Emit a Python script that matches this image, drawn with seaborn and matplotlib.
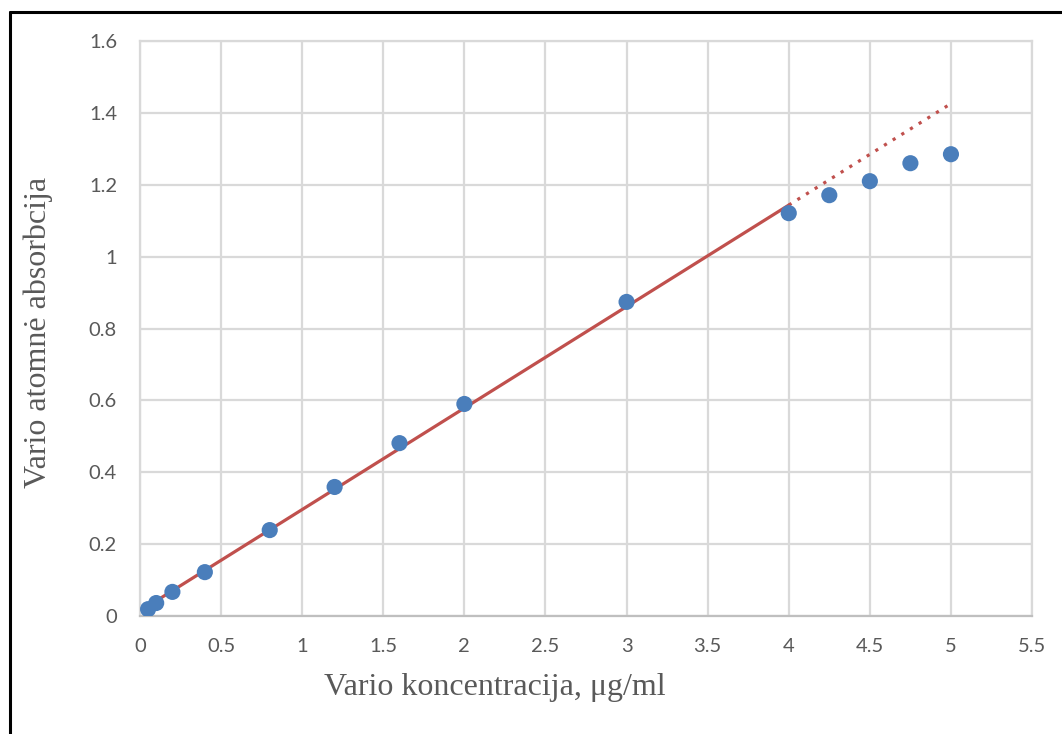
import numpy as np
import pandas as pd
import matplotlib
matplotlib.use("Agg")
import matplotlib.pyplot as plt
from matplotlib.lines import Line2D
import seaborn as sns

# Calibration measurements
concentration = [0.05, 0.1, 0.2, 0.4, 0.8, 1.2, 1.6, 2.0, 3.0, 4.0, 4.25, 4.5, 4.75, 5.0]
absorbance = [0.019, 0.036, 0.067, 0.122, 0.239, 0.359, 0.481, 0.590, 0.874, 1.121,
              1.171, 1.210, 1.260, 1.285]

x_ticks = [0, 0.5, 1, 1.5, 2, 2.5, 3, 3.5, 4, 4.5, 5, 5.5]
x_tick_labels = ["0", "0.5", "1", "1.5", "2", "2.5", "3", "3.5", "4", "4.5", "5", "5.5"]
y_ticks = [0, 0.2, 0.4, 0.6, 0.8, 1.0, 1.2, 1.4, 1.6]
y_tick_labels = ["0", "0.2", "0.4", "0.6", "0.8", "1", "1.2", "1.4", "1.6"]

x_label = "Vario koncentracija, μg/ml"
y_label = "Vario atomnė absorbcija"

# Linear range used for the calibration fit (up to 4 μg/ml) and the forecast end
fit_limit = 4.0
forecast_end = 5.0

df = pd.DataFrame({"c": concentration, "a": absorbance})
lin = df[df["c"] <= fit_limit]
slope, intercept = np.polyfit(lin["c"], lin["a"], 1)

sns.set_theme(style="white")
plt.rcParams["font.family"] = ["Lato", "DejaVu Sans"]

fig = plt.figure(figsize=(10.62, 7.34), dpi=100)
ax = fig.add_axes([0.1318, 0.1608, 0.840, 0.7833])

grid_color = "#d9d9d9"
ax.set_xlim(0, 5.5)
ax.set_ylim(0, 1.6)
ax.set_xticks(x_ticks)
ax.set_xticklabels(x_tick_labels)
ax.set_yticks(y_ticks)
ax.set_yticklabels(y_tick_labels)
ax.grid(True, color=grid_color, linewidth=1.6)
ax.set_axisbelow(True)
for side in ["top", "right", "left"]:
    ax.spines[side].set_color(grid_color)
    ax.spines[side].set_linewidth(1.6)
ax.spines["bottom"].set_color("#bfbfbf")
ax.spines["bottom"].set_linewidth(1.6)
ax.tick_params(axis="both", length=0, labelsize=14.5, colors="#595959")
ax.tick_params(axis="y", pad=16.5)
ax.tick_params(axis="x", pad=15.5)

# Trend line: solid over the fitted range, dotted forecast beyond it
line_solid = pd.DataFrame({"c": [0.0, fit_limit]})
line_solid["a"] = intercept + slope * line_solid["c"]
line_fore = pd.DataFrame({"c": [fit_limit, forecast_end]})
line_fore["a"] = intercept + slope * line_fore["c"]

sns.lineplot(data=line_solid, x="c", y="a", ax=ax, color="#c0504d", linewidth=2.3, zorder=2)
sns.lineplot(data=line_fore, x="c", y="a", ax=ax, color="#c0504d", linewidth=2.3,
             linestyle=(0, (1, 2.2)), zorder=2)

sns.scatterplot(data=df, x="c", y="a", ax=ax, color="#4a7ebb", s=135,
                edgecolor="none", zorder=3)

serif = ["Liberation Serif", "DejaVu Serif"]
ax.set_xlabel(x_label, family=serif, fontsize=23, color="#595959")
ax.set_ylabel(y_label, family=serif, fontsize=23, color="#595959")
ax.xaxis.label.set_va("center")
ax.xaxis.set_label_coords(0.398, -0.125)
ax.yaxis.label.set_va("center")
ax.yaxis.set_label_coords(-0.114, 0.494)

# Outer black frame (left and top edges visible)
fig.add_artist(Line2D([9.5 / 1062, 9.5 / 1062], [0, 1 - 12 / 734], transform=fig.transFigure,
                      color="black", linewidth=2.2))
fig.add_artist(Line2D([9.5 / 1062, 1.0], [1 - 12 / 734, 1 - 12 / 734], transform=fig.transFigure,
                      color="black", linewidth=2.2))

fig.savefig("out.png", dpi=100, facecolor="white")
